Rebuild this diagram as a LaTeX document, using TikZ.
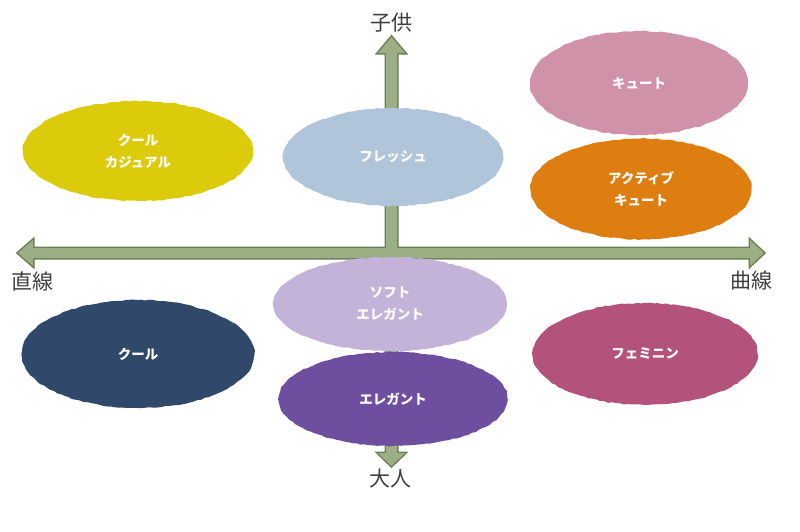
\documentclass[tikz,border=0pt]{standalone}
\usepackage{fontspec}
\newfontfamily\jp{Noto Sans CJK JP}
\usetikzlibrary{shapes.geometric,decorations.pathmorphing}
\definecolor{arrowfill}{HTML}{9CAE84}
\definecolor{arrowline}{HTML}{6C7F56}
\definecolor{labelgray}{HTML}{3F3F3F}
\definecolor{cyellow}{HTML}{DCCB0A}
\definecolor{cfresh}{HTML}{B0C4DA}
\definecolor{cpink}{HTML}{D092A8}
\definecolor{corange}{HTML}{DE7E10}
\definecolor{clavender}{HTML}{C3B3D8}
\definecolor{cnavy}{HTML}{30496A}
\definecolor{cpurple}{HTML}{6E4F9F}
\definecolor{cfeminine}{HTML}{B3527A}
\tikzset{
  blob/.style={ellipse, inner sep=0pt, draw=none, text=white,
    font=\jp\bfseries\fontsize{13.5}{22}\selectfont, align=center,
    decorate, decoration={random steps, segment length=4pt, amplitude=0.6pt}},
  axislabel/.style={text=labelgray, font=\jp\fontsize{21}{23}\selectfont, inner sep=0pt},
}
\begin{document}
\begin{tikzpicture}[x=1pt,y=-1pt]
\pgfmathsetseed{7}
\useasboundingbox (0,0) rectangle (800,531);
% axes: union outline trick
\def\vpath{(386,53) -- (378,53) -- (391.5,37) -- (405,53) -- (397,53) -- (397,453) -- (405,453) -- (391.5,466) -- (378,453) -- (386,453) -- cycle}
\def\hpath{(33,248) -- (33,240) -- (18,253) -- (33,266) -- (33,258) -- (750,258) -- (750,266) -- (764,253) -- (750,240) -- (750,248) -- cycle}
\draw[arrowline, line width=3pt, line join=miter] \vpath;
\draw[arrowline, line width=3pt, line join=miter] \hpath;
\fill[arrowfill] \vpath;
\fill[arrowfill] \hpath;
% axis labels
\node[axislabel] (kodomo) at (391,23) {子供};
\node[axislabel] (otona) at (390,478) {大人};
\node[axislabel] (chokusen) at (32,281) {直線};
\node[axislabel] (kyokusen) at (751,281) {曲線};
% ellipses
\node[blob, fill=cyellow, minimum width=230pt, minimum height=100pt] (coolcasual) at (138,151) {クール\\カジュアル};
\node[blob, fill=cfresh, minimum width=220pt, minimum height=98pt] (fresh) at (393,157) {フレッシュ};
\node[blob, fill=cpink, minimum width=218pt, minimum height=104pt] (cute) at (639,83) {キュート};
\node[blob, fill=corange, minimum width=221pt, minimum height=101pt] (activecute) at (641,189) {アクティブ\\キュート};
\node[blob, fill=clavender, minimum width=234pt, minimum height=94pt] (softelegant) at (390,304) {ソフト\\エレガント};
\node[blob, fill=cnavy, minimum width=233pt, minimum height=108pt] (cool) at (138,354) {クール};
\node[blob, fill=cpurple, minimum width=229pt, minimum height=94pt] (elegant) at (393,399) {エレガント};
\node[blob, fill=cfeminine, minimum width=225pt, minimum height=102pt] (feminine) at (645,354) {フェミニン};
\end{tikzpicture}
\end{document}
